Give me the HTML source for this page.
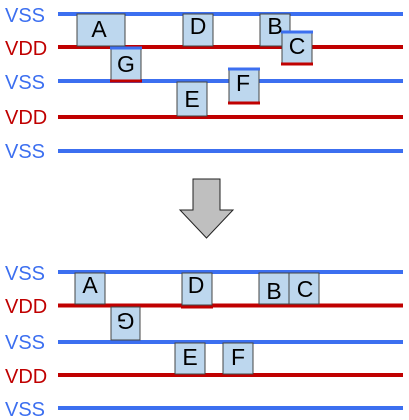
<!DOCTYPE html>
<html><head><meta charset="utf-8"><style>
html,body{margin:0;padding:0;background:#fff;}
svg{display:block;}
text{font-family:"Liberation Sans",sans-serif;}
</style></head><body>
<svg width="409" height="420" viewBox="0 0 409 420" xmlns="http://www.w3.org/2000/svg">
<g stroke-width="4">
<line x1="58" y1="14" x2="403" y2="14" stroke="#3c6ff0"/>
<line x1="58" y1="47" x2="403" y2="47" stroke="#c00000"/>
<line x1="58" y1="81" x2="403" y2="81" stroke="#3c6ff0"/>
<line x1="58" y1="117" x2="403" y2="117" stroke="#c00000"/>
<line x1="58" y1="151" x2="403" y2="151" stroke="#3c6ff0"/>
</g>
<g font-size="20">
<text x="5" y="22" fill="#3c6ff0">VSS</text>
<text x="5" y="55" fill="#c00000">VDD</text>
<text x="5" y="89" fill="#3c6ff0">VSS</text>
<text x="5" y="124" fill="#c00000">VDD</text>
<text x="5" y="158" fill="#3c6ff0">VSS</text>
</g>
<g fill="#bdd7ee" stroke="#444" stroke-width="1">
<rect x="77" y="14" width="48" height="32"/>
<rect x="111" y="48" width="30" height="32"/>
<rect x="183" y="14" width="30" height="32"/>
<rect x="177" y="82" width="30" height="34"/>
<rect x="229" y="69" width="30" height="34"/>
<rect x="260" y="14" width="30" height="32"/>
<rect x="282" y="32" width="30" height="32"/>
</g>
<g stroke-width="3">
<line x1="110" y1="48" x2="142" y2="48" stroke="#3c6ff0"/>
<line x1="110" y1="81" x2="142" y2="81" stroke="#c00000"/>
<line x1="228" y1="69" x2="260" y2="69" stroke="#3c6ff0"/>
<line x1="228" y1="103" x2="260" y2="103" stroke="#c00000"/>
<line x1="281" y1="32" x2="313" y2="32" stroke="#3c6ff0"/>
<line x1="281" y1="64" x2="313" y2="64" stroke="#c00000"/>
</g>
<g font-size="23" text-anchor="middle" fill="#000">
<text x="99" y="37">A</text>
<text x="126" y="72">G</text>
<text x="198" y="34">D</text>
<text x="192" y="107">E</text>
<text x="243" y="91">F</text>
<text x="275" y="34">B</text>
<text x="297" y="54">C</text>
</g>
<polygon points="193,179 220,179 220,210 233,210 206.5,238 180,210 193,210" fill="#bfbfbf" stroke="#222" stroke-width="1"/>
<g stroke-width="4">
<line x1="58" y1="272" x2="403" y2="272" stroke="#3c6ff0"/>
<line x1="58" y1="305.5" x2="403" y2="305.5" stroke="#c00000"/>
<line x1="58" y1="342" x2="403" y2="342" stroke="#3c6ff0"/>
<line x1="58" y1="375" x2="403" y2="375" stroke="#c00000"/>
<line x1="58" y1="408" x2="403" y2="408" stroke="#3c6ff0"/>
</g>
<g font-size="20">
<text x="5" y="280" fill="#3c6ff0">VSS</text>
<text x="5" y="313" fill="#c00000">VDD</text>
<text x="5" y="349" fill="#3c6ff0">VSS</text>
<text x="5" y="383" fill="#c00000">VDD</text>
<text x="5" y="416" fill="#3c6ff0">VSS</text>
</g>
<g fill="#bdd7ee" stroke="#444" stroke-width="1">
<rect x="75" y="273" width="30" height="31"/>
<rect x="182" y="273" width="30" height="32"/>
<rect x="259" y="273" width="30" height="31"/>
<rect x="289" y="273" width="30" height="31"/>
<rect x="111" y="307" width="29" height="33"/>
<rect x="175" y="343" width="30" height="31"/>
<rect x="223" y="343" width="30" height="31"/>
</g>
<line x1="181" y1="307" x2="213" y2="307" stroke="#c00000" stroke-width="3"/>
<g font-size="23" text-anchor="middle" fill="#000">
<text x="90" y="293">A</text>
<text x="196" y="293">D</text>
<text x="274" y="299">B</text>
<text x="305" y="297">C</text>
<text x="190" y="365">E</text>
<text x="238" y="365">F</text>
<text transform="translate(125.5,321) rotate(180)" y="8">G</text>
</g>
</svg>
</body></html>
